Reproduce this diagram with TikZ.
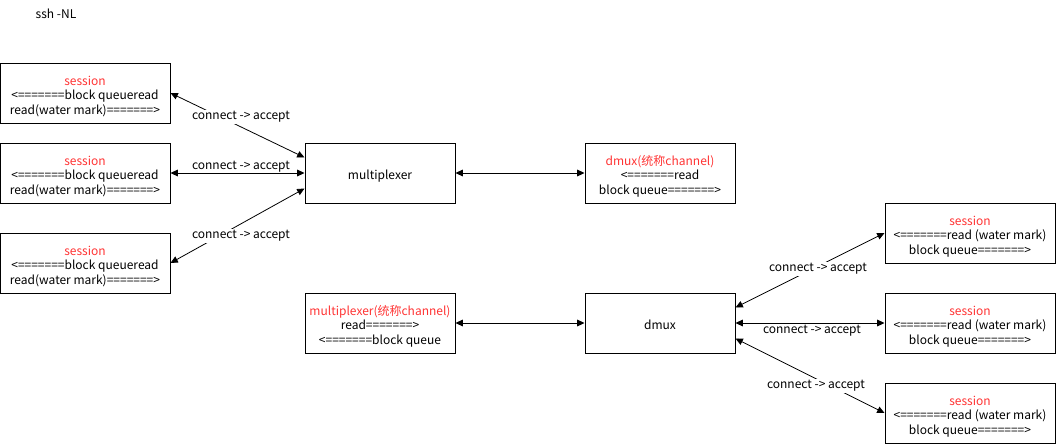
\documentclass[tikz,border=0pt]{standalone}
\usepackage{fontspec}
\setmainfont{Noto Sans CJK SC}
\usetikzlibrary{arrows.meta}
\definecolor{tred}{HTML}{FF3333}
\newcommand\btxt[1]{\raisebox{-3pt}[\height][\depth]{\begin{tabular}{@{}c@{}}#1\end{tabular}}}
\begin{document}
\begin{tikzpicture}[x=0.75pt,y=-0.75pt,
  box/.style={draw=black,line width=0.75pt,minimum width=112.5pt,minimum height=45pt,inner sep=0pt,align=center,font=\fontsize{9}{10.8}\selectfont},
  wbox/.style={box,minimum width=127.5pt},
  conn/.style={line width=0.6pt,{Triangle[length=5.5pt,width=5pt]}-{Triangle[length=5.5pt,width=5pt]}},
  lbl/.style={fill=white,inner sep=1pt,font=\fontsize{9}{11}\selectfont}]
\useasboundingbox (0,0) rectangle (1056,444);
\node[font=\fontsize{9}{11}\selectfont] (title) at (56,14) {ssh -NL};
\node[wbox] (s1) at (85,93) {\btxt{\textcolor{tred}{session}\\<=======block queueread\\read(water mark)=======>}};
\node[wbox] (s2) at (85,173) {\btxt{\textcolor{tred}{session}\\<=======block queueread\\read(water mark)=======>}};
\node[wbox] (s3) at (85,263) {\btxt{\textcolor{tred}{session}\\<=======block queueread\\read(water mark)=======>}};
\node[box] (mux) at (380,173) {\btxt{multiplexer}};
\node[box] (dch) at (660,173) {\btxt{\textcolor{tred}{dmux(统称channel)}\\<=======read\\block queue=======>}};
\node[box] (mch) at (380,323) {\btxt{\textcolor{tred}{multiplexer(统称channel)}\\read=======>\\<=======block queue}};
\node[box] (dmux) at (660,323) {\btxt{dmux}};
\node[wbox] (r1) at (970,233) {\btxt{\textcolor{tred}{session}\\<=======read (water mark)\\block queue=======>}};
\node[wbox] (r2) at (970,323) {\btxt{\textcolor{tred}{session}\\<=======read (water mark)\\block queue=======>}};
\node[wbox] (r3) at (970,413) {\btxt{\textcolor{tred}{session}\\<=======read (water mark)\\block queue=======>}};
\draw[conn] (s1.east) -- ([yshift=-11.25pt]mux.north west);
\node[lbl] (l1) at (241,117) {connect -> accept};
\draw[conn] (s2.east) -- (mux.west);
\node[lbl,fill=none] (l2) at (241,167) {connect -> accept};
\draw[conn] (s3.east) -- ([yshift=11.25pt]mux.south west);
\node[lbl] (l3) at (241,236) {connect -> accept};
\draw[conn] (mux.east) -- (dch.west);
\draw[conn] (mch.east) -- (dmux.west);
\draw[conn] ([yshift=-11.25pt]dmux.north east) -- (r1.west);
\node[lbl] (l4) at (818,269) {connect -> accept};
\draw[conn] (dmux.east) -- (r2.west);
\node[lbl] (l5) at (812,331) {connect -> accept};
\draw[conn] ([yshift=11.25pt]dmux.south east) -- (r3.west);
\node[lbl] (l6) at (816,386) {connect -> accept};
\end{tikzpicture}
\end{document}
